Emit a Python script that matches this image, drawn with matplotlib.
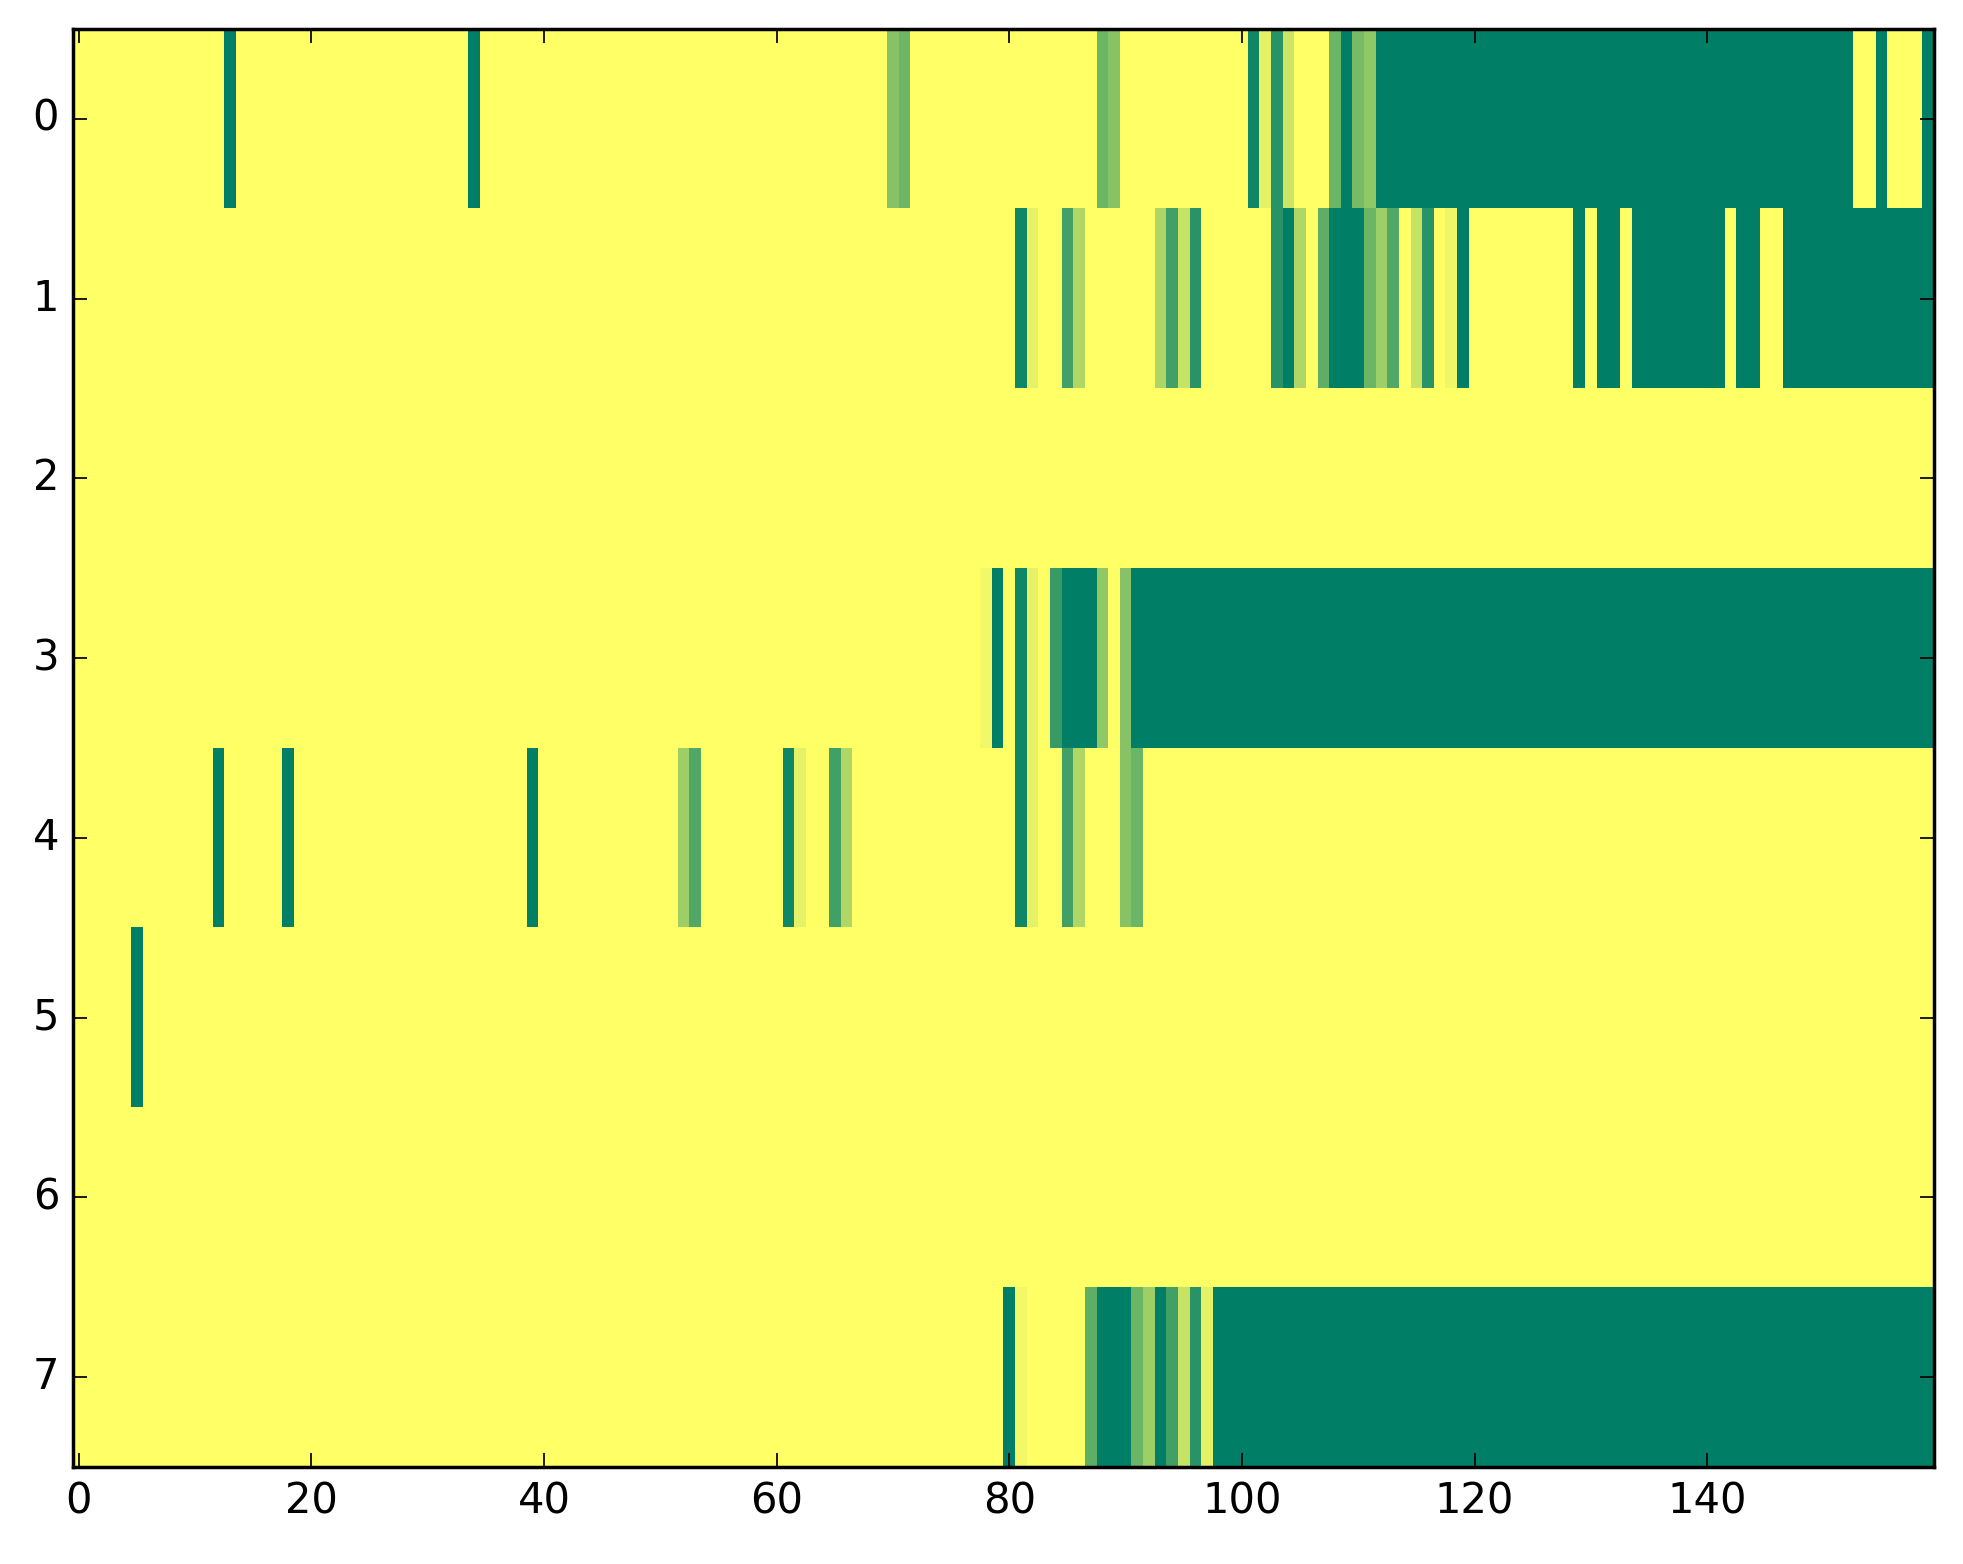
import numpy as np
import matplotlib
matplotlib.use('Agg')
import matplotlib.pyplot as plt

n_rows = 8
n_cols = 160

# single cells: (row, column, value)
cells = [
    (0, 13, 1.0), (0, 34, 1.0), (0, 70, 0.47), (0, 71, 0.57), (0, 88, 0.58), (0, 89, 0.47),
    (0, 101, 0.94), (0, 102, 0.1), (0, 103, 0.84), (0, 104, 0.2), (0, 108, 0.58), (0, 109, 1.0),
    (0, 110, 0.53), (0, 111, 0.43), (0, 155, 1.0), (0, 159, 1.0),
    (1, 81, 0.94), (1, 82, 0.1), (1, 85, 0.74), (1, 86, 0.31), (1, 93, 0.32), (1, 94, 0.74),
    (1, 95, 0.22), (1, 96, 0.84), (1, 103, 0.84), (1, 104, 1.0), (1, 105, 0.31), (1, 107, 0.63),
    (1, 111, 0.58), (1, 112, 0.38), (1, 113, 0.68), (1, 115, 0.22), (1, 116, 0.84), (1, 118, 0.06),
    (1, 119, 1.0), (1, 129, 1.0),
    (3, 78, 0.05), (3, 79, 1.0), (3, 81, 0.94), (3, 82, 0.1), (3, 84, 0.78), (3, 88, 0.43), (3, 90, 0.47),
    (4, 12, 1.0), (4, 18, 1.0), (4, 39, 1.0), (4, 52, 0.38), (4, 53, 0.68), (4, 61, 0.94), (4, 62, 0.1),
    (4, 65, 0.74), (4, 66, 0.31), (4, 81, 0.94), (4, 82, 0.1), (4, 85, 0.74), (4, 86, 0.31),
    (4, 90, 0.47), (4, 91, 0.58),
    (5, 5, 1.0),
    (7, 80, 1.0), (7, 81, 0.05), (7, 87, 0.63), (7, 91, 0.58), (7, 92, 0.38), (7, 93, 1.0),
    (7, 94, 0.74), (7, 95, 0.22), (7, 96, 0.84), (7, 97, 0.1),
]

# runs of equal value: (row, first column, last column, value)
runs = [
    (0, 112, 152, 1.0),
    (1, 108, 110, 1.0), (1, 131, 132, 1.0), (1, 134, 141, 1.0), (1, 143, 144, 1.0), (1, 147, 159, 1.0),
    (3, 85, 87, 1.0), (3, 91, 159, 1.0),
    (7, 88, 90, 1.0), (7, 98, 159, 1.0),
]

data = np.zeros((n_rows, n_cols))
for r, c, v in cells:
    data[r, c] = v
for r, c0, c1, v in runs:
    data[r, c0:c1 + 1] = v

plt.style.use('classic')
fig = plt.figure(figsize=(1963 / 250, 1564 / 250), dpi=250)
ax = fig.add_axes([0.0372, 0.062, 0.948, 0.9194])
ax.imshow(data, cmap='summer_r', vmin=0, vmax=1, aspect='auto', interpolation='nearest')
ax.set_xlim(-0.5, n_cols - 0.5)
ax.set_ylim(n_rows - 0.5, -0.5)
ax.set_xticks(np.arange(0, 141, 20))
ax.set_yticks(np.arange(0, 8))

fig.savefig('out.png', dpi=250)
